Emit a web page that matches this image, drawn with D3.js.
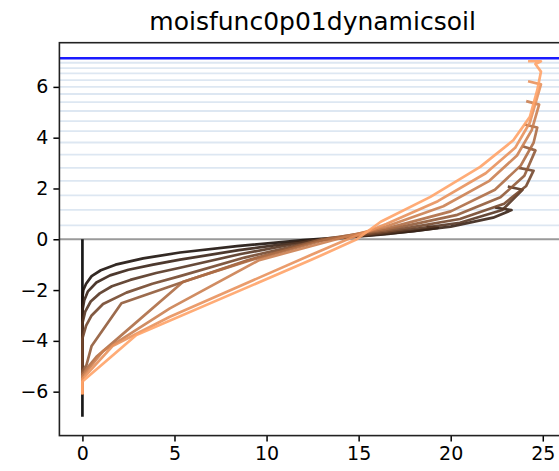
<!DOCTYPE html>
<html>
<head>
<meta charset="utf-8">
<script src="https://cdn.jsdelivr.net/npm/d3@7"></script>
<style>
  body { margin: 0; background: #fff; }
  text { font-family: "DejaVu Sans", sans-serif; fill: #000; }
</style>
</head>
<body>
<svg id="chart" width="559" height="471"></svg>
<script>
const title = 'moisfunc0p01dynamicsoil';
const xTicks = [0, 5, 10, 15, 20, 25];
const yTicks = [-6, -4, -2, 0, 2, 4, 6];

// layer interfaces (light lines), model top (blue) and surface (grey)
const layerLevels = [6.95, 6.74, 6.53, 6.27, 6.00, 5.72, 5.40, 5.05, 4.65, 4.26,
  3.81, 3.33, 2.81, 2.30, 1.73, 1.16, 0.55];
const topLevel = 7.13;
const surfaceLevel = 0;

// profiles, darkest (first output) to lightest (last output), as [x, y]
const profile0 = [[0, -6.99], [0, 0]];
const profile1 = [[0, -6.1], [0, -2.3], [0.05, -2.0], [0.2, -1.75], [0.5, -1.45], [1.0, -1.22],
  [1.8, -1.0], [3.3, -0.75], [5.3, -0.52], [8.4, -0.27], [12, -0.03], [15.5, 0.15], [18, 0.32],
  [19.3, 0.45], [18.7, 0.5]];
const profile2 = [[0, -6.1], [0, -2.8], [0.1, -2.4], [0.3, -2.05], [0.76, -1.7], [1.5, -1.42],
  [2.5, -1.2], [3.84, -1.0], [5.3, -0.8], [8.5, -0.43], [12.3, -0.05], [16.5, 0.2], [20, 0.5],
  [22.3, 0.85], [23.3, 1.15], [22.4, 1.25]];
const profile3 = [[0, -6.1], [0, -3.3], [0.15, -2.85], [0.45, -2.45], [0.94, -2.13], [1.6, -1.85],
  [2.6, -1.6], [4, -1.33], [5.3, -1.12], [8.6, -0.58], [12.5, -0.05], [16.5, 0.25], [20.5, 0.65],
  [22.8, 1.15], [23.9, 1.95], [23.1, 2.08]];
const profile4 = [[0, -6.1], [0, -3.9], [0.2, -3.4], [0.5, -3.0], [1.12, -2.55], [2.39, -2.1],
  [3.8, -1.75], [5.3, -1.45], [8.8, -0.72], [12.8, -0.05], [16.5, 0.3], [20.5, 0.8], [22.9, 1.4],
  [24.1, 2.1], [24.5, 2.7], [23.7, 2.81]];
const profile5 = [[0, -6.1], [0, -5.2], [0.22, -4.95], [0.5, -4.2], [2.12, -2.52], [5.3, -1.72],
  [9, -0.82], [13, 0], [16.5, 0.36], [20.3, 0.95], [22.7, 1.65], [24, 2.5], [24.6, 3.5], [23.9, 3.66]];
const profile6 = [[0, -6.1], [0, -5.3], [0.76, -4.63], [5.47, -1.67], [9, -0.85], [13.3, 0],
  [16.5, 0.42], [20, 1.1], [22.4, 1.95], [23.8, 2.9], [24.5, 3.8], [24.7, 4.4], [24, 4.52]];
const profile7 = [[0, -6.1], [0, -5.4], [1.12, -4.4], [4.75, -2.72], [9.6, -0.82], [13.8, 0],
  [16.5, 0.5], [19.6, 1.3], [22.1, 2.3], [23.6, 3.3], [24.4, 4.3], [24.8, 5.3], [24.1, 5.44]];
const profile8 = [[0, -6.1], [0, -5.5], [1.66, -4.19], [4.75, -3.05], [12.4, -0.62], [14.4, 0],
  [16.5, 0.6], [19.3, 1.5], [21.9, 2.6], [23.5, 3.6], [24.3, 4.6], [24.7, 5.6], [24.9, 6.1], [24.2, 6.22]];
const profile9 = [[0, -6.1], [0, -5.6], [2.93, -3.77], [12.4, -0.82], [14.9, 0], [16.2, 0.69],
  [18.9, 1.67], [21.6, 2.85], [23.4, 3.9], [24.3, 4.82], [24.7, 5.87], [24.9, 6.6], [24.6, 6.9],
  [24.9, 7.01], [24.2, 7.01]];

const profiles = [profile0, profile1, profile2, profile3, profile4,
  profile5, profile6, profile7, profile8, profile9];

const margin = { top: 42.7, left: 59.4 };
const innerWidth = 506.4;
const innerHeight = 392.9;

// matplotlib copper map
function copper(t) {
  const r = Math.min(1, 1.25 * t), g = 0.7812 * t, b = 0.4975 * t;
  return d3.rgb(r * 255, g * 255, b * 255).toString();
}

const x = d3.scaleLinear().domain([-1.25, 26.25]).range([0, innerWidth]);
const y = d3.scaleLinear().domain([-7.73, 7.74]).range([innerHeight, 0]);

const svg = d3.select('#chart');

svg.append('text')
  .attr('x', margin.left + innerWidth / 2)
  .attr('y', 30)
  .attr('text-anchor', 'middle')
  .style('font-size', '25px')
  .text(title);

svg.append('defs').append('clipPath').attr('id', 'clip')
  .append('rect').attr('width', innerWidth).attr('height', innerHeight);

const g = svg.append('g')
  .attr('transform', `translate(${margin.left}, ${margin.top})`);

const plot = g.append('g').attr('clip-path', 'url(#clip)');

plot.selectAll('line.layer')
  .data(layerLevels)
  .enter().append('line')
  .attr('class', 'layer')
  .attr('x1', 0).attr('x2', innerWidth)
  .attr('y1', (d) => y(d)).attr('y2', (d) => y(d))
  .attr('stroke', '#dde7f2')
  .attr('stroke-width', 1.8);

plot.append('line')
  .attr('x1', 0).attr('x2', innerWidth)
  .attr('y1', y(topLevel)).attr('y2', y(topLevel))
  .attr('stroke', '#1a1aff')
  .attr('stroke-width', 2.4);

plot.append('line')
  .attr('x1', 0).attr('x2', innerWidth)
  .attr('y1', y(surfaceLevel)).attr('y2', y(surfaceLevel))
  .attr('stroke', '#9a9a9a')
  .attr('stroke-width', 2);

const line = d3.line().x((d) => x(d[0])).y((d) => y(d[1]));

plot.selectAll('path.profile')
  .data(profiles)
  .enter().append('path')
  .attr('class', 'profile')
  .attr('d', line)
  .attr('fill', 'none')
  .attr('stroke', (d, i) => copper(i / 11))
  .attr('stroke-opacity', 0.9)
  .attr('stroke-width', 2.7)
  .attr('stroke-linejoin', 'round');

const axisX = d3.axisBottom(x).tickValues(xTicks).tickSize(6).tickPadding(5).tickSizeOuter(0);
const axisY = d3.axisLeft(y).tickValues(yTicks).tickSize(6).tickPadding(5).tickSizeOuter(0);

const gx = g.append('g')
  .attr('transform', `translate(0, ${innerHeight})`)
  .call(axisX);
const gy = g.append('g').call(axisY);

[gx, gy].forEach((a) => {
  a.select('.domain').remove();
  a.selectAll('line').attr('stroke', '#000').attr('stroke-width', 1.5);
  a.selectAll('text').style('font-size', '19px');
});

// spines
g.append('rect')
  .attr('width', innerWidth)
  .attr('height', innerHeight)
  .attr('fill', 'none')
  .attr('stroke', '#222')
  .attr('stroke-width', 1.6);
</script>
</body>
</html>
